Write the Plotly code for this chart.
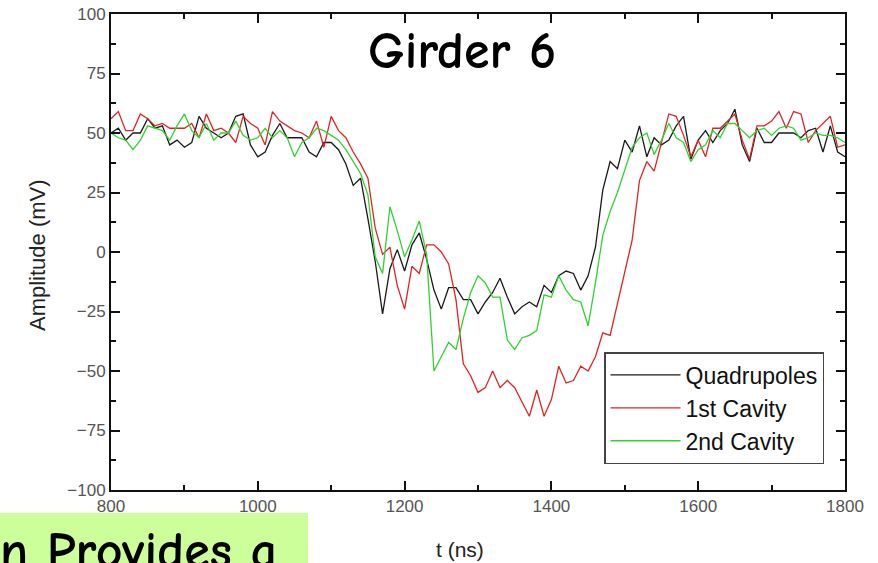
import plotly.graph_objects as go

# ---- data ----
t_ns = list(range(800, 1801, 10))

quadrupoles = [
    50, 52, 47, 50, 50, 56, 52, 53, 45, 47,
    44, 46, 57, 52, 50, 48, 50, 57, 58, 45,
    40, 42, 49, 54, 48, 48, 48, 42, 40, 46,
    46, 43, 37, 28, 31, 14, -4, -26, -7, 1,
    -8, 3, 8, -3, -16, -24, -15, -15, -20, -20,
    -26, -21, -17, -11, -19, -26, -23, -21, -23, -14,
    -17, -10, -8, -9, -16, -10, 2, 26, 38, 35,
    47, 42, 53, 40, 48, 45, 47, 53, 57, 39,
    47, 51, 46, 51, 54, 60, 45, 38, 52, 46,
    46, 50, 50, 50, 48, 51, 52, 42, 53, 42,
    40,
]

cavity1 = [
    56, 59, 51, 51, 58, 56, 53, 54, 52, 52,
    52, 54, 48, 58, 51, 52, 50, 46, 57, 54,
    52, 45, 59, 55, 53, 51, 50, 48, 55, 44,
    57, 51, 48, 42, 37, 31, 10, -1, 2, -14,
    -24, -6, -9, 3, 3, 0, -5, -20, -47, -52,
    -59, -57, -50, -57, -54, -57, -63, -69, -58, -69,
    -62, -48, -55, -54, -48, -50, -44, -34, -35, -22,
    -9, 5, 30, 38, 34, 46, 58, 57, 49, 40,
    47, 40, 52, 52, 55, 58, 47, 39, 53, 53,
    55, 59, 52, 59, 58, 46, 51, 54, 57, 44,
    45,
]

cavity2 = [
    50, 48, 47, 43, 47, 53, 52, 51, 47, 53,
    58, 51, 48, 54, 47, 50, 50, 55, 49, 47,
    48, 52, 48, 51, 48, 40, 46, 48, 52, 51,
    49, 47, 43, 38, 33, 24, -2, -9, 19, 9,
    -2, 5, 13, -1, -50, -44, -38, -41, -28, -17,
    -10, -13, -19, -19, -37, -41, -36, -35, -33, -18,
    -19, -10, -16, -20, -21, -31, -13, 7, 17, 25,
    35, 44, 48, 50, 41, 47, 54, 48, 46, 38,
    43, 45, 51, 48, 54, 54, 51, 48, 51, 52,
    49, 52, 53, 52, 47, 48, 50, 49, 49, 48,
    46,
]

series_names = ["Quadrupoles", "1st Cavity", "2nd Cavity"]
series_values = [quadrupoles, cavity1, cavity2]
series_colors = ["#1a1a1a", "#e02424", "#2fd42f"]

x_ticks = [800, 1000, 1200, 1400, 1600, 1800]
y_ticks = [-100, -75, -50, -25, 0, 25, 50, 75, 100]

# ---- layout geometry (pixels) ----
W, H = 878, 563
L, R, T, B = 111, 845, 14, 490
ARIAL = "Arial, Liberation Sans, sans-serif"
COMIC = "Comic Neue, Lato, sans-serif"


def px(xp):
    return (xp - L) / (R - L)


def py(yp):
    return (B - yp) / (B - T)


fig = go.Figure()
for i, (name, vals, col) in enumerate(zip(series_names, series_values, series_colors)):
    fig.add_trace(go.Scatter(
        x=t_ns, y=vals, mode="lines", name=name,
        line=dict(color=col, width=1.3),
        legendgroup=f"g{i}",
    ))

axis_common = dict(
    showline=True, linecolor="#111", linewidth=2, mirror="ticks",
    ticks="inside", ticklen=9, tickwidth=2, tickcolor="#111",
    showgrid=False, zeroline=False, automargin=False,
    tickfont=dict(family=ARIAL, size=17, color="#555"),
)

fig.update_xaxes(
    range=[800, 1800], tickvals=x_ticks,
    minor=dict(ticks="inside", ticklen=5, tickwidth=1.5, tickcolor="#111", dtick=100, showgrid=False),
    **axis_common,
)
fig.update_yaxes(
    range=[-100, 100], tickvals=y_ticks,
    minor=dict(ticks="inside", ticklen=5, tickwidth=1.5, tickcolor="#111", dtick=12.5, showgrid=False),
    **axis_common,
)

fig.update_layout(
    width=W, height=H,
    margin=dict(l=L, r=W - R, t=T, b=H - B, autoexpand=False),
    paper_bgcolor="white", plot_bgcolor="white",
    showlegend=True,
    legend=dict(
        x=px(604), y=py(352), xanchor="left", yanchor="top",
        bgcolor="white", bordercolor="#444", borderwidth=1.5,
        font=dict(family=ARIAL, size=23, color="#111"),
        tracegroupgap=0, itemwidth=70,
    ),
)

# Axis titles
fig.add_annotation(
    text="t (ns)", xref="paper", yref="paper",
    x=px(460), y=py(549), xanchor="center", yanchor="middle",
    showarrow=False, font=dict(family=ARIAL, size=21, color="#222"),
)
fig.add_annotation(
    text="Amplitude (mV)", xref="paper", yref="paper",
    x=px(37), y=py(255), xanchor="center", yanchor="middle", textangle=-90,
    showarrow=False, font=dict(family=ARIAL, size=22, color="#222"),
)

# Title inside the plot
fig.add_annotation(
    text="Girder 6", xref="paper", yref="paper",
    x=px(462), y=py(51), xanchor="center", yanchor="middle",
    showarrow=False,
    font=dict(family=COMIC, size=52, color="#000", weight="bold"),
)

# Green box in the bottom-left with cropped text
fig.add_shape(
    type="rect", xref="paper", yref="paper",
    x0=px(0), x1=px(308), y0=py(575), y1=py(513),
    fillcolor="#ccff99", line=dict(width=0), layer="above",
)
fig.add_annotation(
    text="n Provides a", xref="paper", yref="paper",
    x=px(-2), y=py(519), xanchor="left", yanchor="top",
    showarrow=False,
    font=dict(family=COMIC, size=52, color="#000", weight="bold"),
)

fig.write_html(
    "out.html",
    config={"displayModeBar": False},
    post_script="document.body.style.margin='0';",
)
